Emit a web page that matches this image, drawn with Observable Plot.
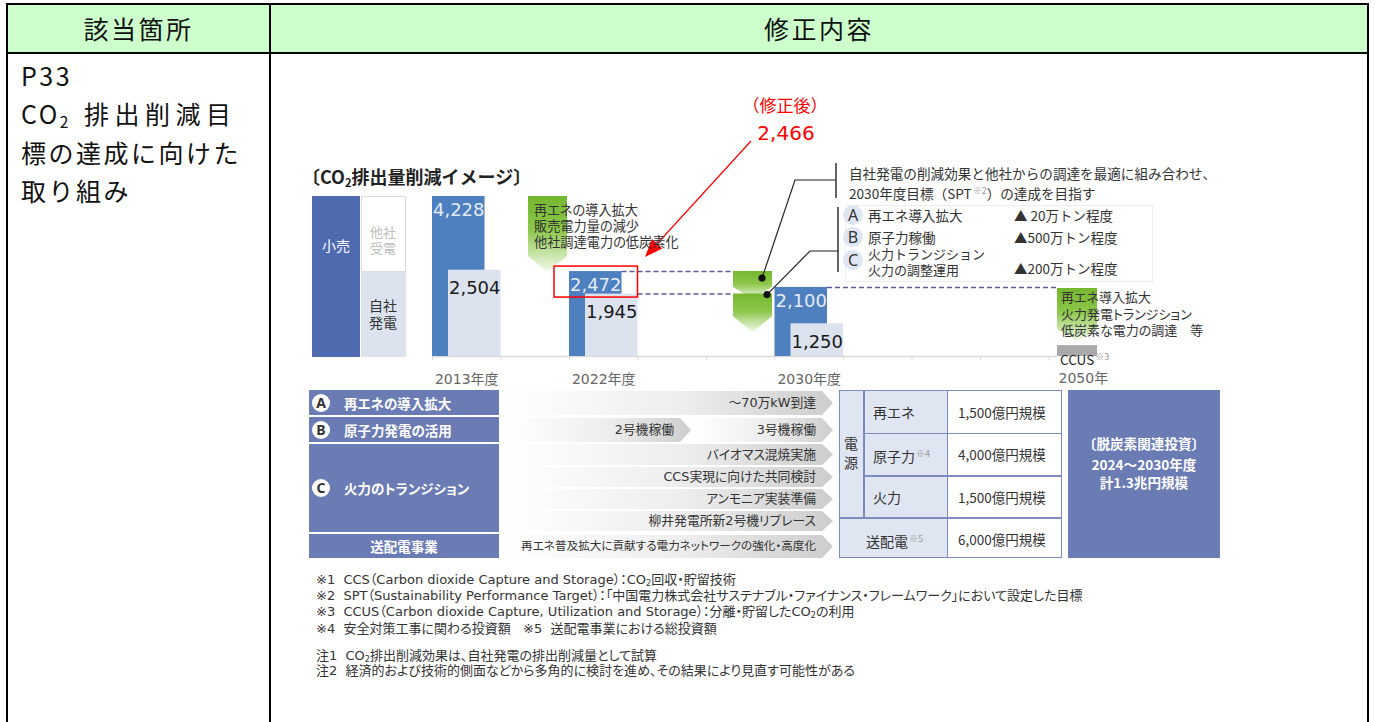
<!DOCTYPE html>
<html lang="ja"><head><meta charset="utf-8">
<script src="https://cdn.jsdelivr.net/npm/d3@7"></script>
<script src="https://cdn.jsdelivr.net/npm/@observablehq/plot@0.6"></script>
<style>
html,body{margin:0;padding:0;background:#fff}
body{width:1375px;height:722px;position:relative;overflow:hidden;font-family:"Noto Sans CJK JP","Noto Sans",sans-serif;color:#222}
.a{position:absolute;white-space:nowrap;z-index:2}
.p{font-feature-settings:"palt"}
.sup{font-size:9px;color:#9a9a9a;vertical-align:5px;margin-left:1px}
sub{font-size:0.62em;vertical-align:-0.25em;line-height:0}
</style></head><body>
<script>
// ---------------- data ----------------
const slotDomain = ["2013年度", "gap1", "2022年度", "gap2", "gap3", "2030年度", "gap4", "gap5", "gap6", "2050年"];
const fiscalYears = ["2013年度", "2022年度", "2030年度"];
const retailEmissions = [4228, 2472, 2100];   // 小売（万t-CO2）
const ownGenEmissions = [2504, 1945, 1250];   // 自社発電
const correctedRetail2022 = [2466];           // 修正後
const ccusResidual2050 = [740];
const axisFloor = 485;
const axisLabels = ["2013年度", "2022年度", "2030年度"];
const axisLabel2050 = ["2050年"];

const headerLabels = ["該当箇所", "修正内容"];
const locationLines = ["P33", "CO2 排出削減目", "標の達成に向けた", "取り組み"];
const chartTitle = "〔CO₂排出量削減イメージ〕";
const legendLabels = ["小売", "他社受電", "自社発電"];
const notes2022 = ["再エネの導入拡大", "販売電力量の減少", "他社調達電力の低炭素化"];
const notes2050 = ["再エネ導入拡大", "火力発電トランジション", "低炭素な電力の調達　等"];
const targetNote = ["自社発電の削減効果と他社からの調達を最適に組み合わせ、", "2030年度目標（SPT<span class='sup'>※2</span>）の達成を目指す"];
const reductionKeys = ["A", "B", "C"];
const reductionLevers = [["再エネ導入拡大"], ["原子力稼働"], ["火力トランジション", "火力の調整運用"]];
const reductionAmounts = ["▲ 20万トン程度", "▲500万トン程度", "▲200万トン程度"];
const measures = [["A", "再エネの導入拡大"], ["B", "原子力発電の活用"], ["C", "火力のトランジション"], ["", "送配電事業"]];
const roadmap = [["～70万kW到達"], ["2号機稼働", "3号機稼働"], ["バイオマス混焼実施"], ["CCS実現に向けた共同検討"], ["アンモニア実装準備"], ["柳井発電所新2号機リプレース"], ["再エネ普及拡大に貢献する電力ネットワークの強化・高度化"]];
const investCategories = ["再エネ", "原子力", "火力", "送配電"];
const investNotes = ["", "※4", "", "※5"];
const investAmounts = ["1,500億円規模", "4,000億円規模", "1,500億円規模", "6,000億円規模"];
const investTotal = ["〔脱炭素関連投資〕", "2024～2030年度", "計1.3兆円規模"];
const footnotes = [
  "※1  CCS（Carbon dioxide Capture and Storage）：CO<sub>2</sub>回収・貯留技術",
  "※2  SPT（Sustainability Performance Target）：「中国電力株式会社サステナブル・ファイナンス・フレームワーク」において設定した目標",
  "※3  CCUS（Carbon dioxide Capture, Utilization and Storage）：分離・貯留したCO<sub>2</sub>の利用",
  "※4  安全対策工事に関わる投資額   ※5  送配電事業における総投資額",
  "注1  CO<sub>2</sub>排出削減効果は、自社発電の排出削減量として試算",
  "注2  経済的および技術的側面などから多角的に検討を進め、その結果により見直す可能性がある"
];

// ---------------- helpers ----------------
function el(html, style, cls = "a") {
  const d = document.createElement("div");
  d.className = cls; d.style.cssText = style; d.innerHTML = html;
  document.body.appendChild(d); return d;
}
function txt(html, left, cy, size, extra = "", cls = "a", lh) {
  lh = lh || Math.round(size * 1.4);
  return el(html, `left:${left}px;top:${cy - lh / 2}px;font-size:${size}px;line-height:${lh}px;${extra}`, cls);
}
function txt2(l1, l2, left, cy1, gap, size, extra = "", cls = "a") {
  return el(l1 + "<br>" + l2, `left:${left}px;top:${cy1 - gap / 2}px;font-size:${size}px;line-height:${gap}px;${extra}`, cls);
}

// ---------------- table frame ----------------
el("", "left:6px;top:3px;width:1363px;height:51px;background:#ccffcc;border:2px solid #000;box-sizing:border-box;z-index:0");
el("", "left:6px;top:54px;width:1363px;height:700px;border:2px solid #000;border-top:none;box-sizing:border-box;z-index:0");
el("", "left:269px;top:3px;width:2px;height:730px;background:#000;z-index:0");
el(headerLabels[0], "left:8px;width:261px;top:3px;height:51px;line-height:51px;text-align:center;font-size:25px;letter-spacing:2.5px;color:#111");
el(headerLabels[1], "left:271px;width:1096px;top:3px;height:51px;line-height:51px;text-align:center;font-size:25px;letter-spacing:2.5px;color:#111");
const locY = [75, 113, 152, 190];
txt(locationLines[0], 21, locY[0], 25, "letter-spacing:2.5px;color:#111", "a", 34);
txt("CO<sub>2</sub> <span style='letter-spacing:5.5px;margin-left:5px'>" + locationLines[1].split(" ")[1] + "</span>", 21, locY[1], 25, "letter-spacing:2.5px;color:#111", "a", 34);
txt(locationLines[2], 21, locY[2], 25, "letter-spacing:2.5px;color:#111", "a", 34);
txt(locationLines[3], 21, locY[3], 25, "letter-spacing:2.5px;color:#111", "a", 34);

// ---------------- chart (Observable Plot) ----------------
const fmt = d3.format(",");
const rows = fiscalYears.map((year, i) => ({year, retail: retailEmissions[i], own: ownGenEmissions[i]}));
const X0 = 432, X1 = 1117, BW = (X1 - X0) / slotDomain.length;
const Y0 = 356, YT = 196;
const numFont = '"DejaVu Sans","Noto Sans CJK JP",sans-serif';
const dash = {stroke: "#5a5a98", strokeWidth: 1.5, strokeDasharray: "5,3"};

function annotationLayer(index, scales) {
  const xs = scales && scales.x && typeof scales.x.bandwidth === "function" ? scales.x : d3.scaleBand(slotDomain, [X0, X1]);
  const ys = scales && typeof scales.y === "function" ? scales.y : d3.scaleLinear([axisFloor, 4228], [Y0, YT]);
  const g = d3.create("svg:g");
  const defs = g.append("defs");
  const gr = defs.append("linearGradient").attr("id", "greenFade").attr("x1", 0).attr("y1", 0).attr("x2", 0).attr("y2", 1);
  gr.append("stop").attr("offset", "0%").attr("stop-color", "#74b72e");
  gr.append("stop").attr("offset", "45%").attr("stop-color", "#8cc74a");
  gr.append("stop").attr("offset", "100%").attr("stop-color", "#f3f9ec");
  const chev = (x0, w, top, sides, tip) => `M${x0},${top}H${x0 + w}V${sides}L${x0 + w / 2},${tip}L${x0},${sides}Z`;
  const c1x = xs("gap1") + 27.5, c2x = xs("gap3") + 27, c4x = xs("2050年") + 8.5;
  const t1 = ys(retailEmissions[1]) + 1, t2 = ys(retailEmissions[2]) + 12, t3 = ys(ownGenEmissions[2]) + 9, t4 = ys(ccusResidual2050[0]) - 4;
  const shapes = [
    chev(c1x, 39, ys(retailEmissions[0]), t1 - 16, t1),
    chev(c2x, 39, ys(retailEmissions[1]), t2 - 12, t2),
    chev(c2x, 39, ys(ownGenEmissions[1]), t3 - 16, t3),
    chev(c4x, 40, ys(retailEmissions[2]) + 1, t4 - 12, t4)
  ];
  g.selectAll("path.chev").data(shapes).join("path").attr("d", d => d).attr("fill", "url(#greenFade)");
  const d1 = [c2x + 29, ys(retailEmissions[1]) + 7], d2 = [c2x + 34, ys(ownGenEmissions[1]) + 1];
  const line = d3.line();
  g.append("path").attr("d", line([d1, [795, 180], [836, 180]])).attr("fill", "none").attr("stroke", "#222").attr("stroke-width", 1.2);
  g.append("path").attr("d", line([d2, [810, 251], [838, 251]])).attr("fill", "none").attr("stroke", "#222").attr("stroke-width", 1.2);
  g.append("path").attr("d", "M836,163V198M838,207V272").attr("stroke", "#333").attr("stroke-width", 1.5);
  g.selectAll("circle").data([d1, d2]).join("circle").attr("cx", d => d[0]).attr("cy", d => d[1]).attr("r", 3.6).attr("fill", "#111");
  const bx = xs("2022年度"), by = ys(retailEmissions[1]);
  g.append("rect").attr("x", bx - 15).attr("y", by - 5).attr("width", BW + 15).attr("height", 31).attr("fill", "none").attr("stroke", "#ff0000").attr("stroke-width", 1.5);
  const start = [751, 141], tip = [bx + BW + 7.5, by - 14];
  const vx = tip[0] - start[0], vy = tip[1] - start[1], L = Math.hypot(vx, vy), ux = vx / L, uy = vy / L;
  const hl = 18, hw = 7;
  const base = [tip[0] - ux * hl, tip[1] - uy * hl];
  g.append("line").attr("x1", start[0]).attr("y1", start[1]).attr("x2", base[0]).attr("y2", base[1]).attr("stroke", "#ff0000").attr("stroke-width", 1.2);
  g.append("path").attr("d", `M${tip[0]},${tip[1]}L${base[0] - uy * hw},${base[1] + ux * hw}L${base[0] + uy * hw},${base[1] - ux * hw}Z`).attr("fill", "#ff0000");
  g.append("text").attr("x", 785).attr("y", 106).attr("dy", "0.35em").attr("text-anchor", "middle").attr("fill", "#ff0000").attr("font-size", 17).text("（修正後）");
  g.append("text").attr("x", 786).attr("y", 133).attr("dy", "0.35em").attr("text-anchor", "middle").attr("fill", "#ff0000").attr("font-size", 20).attr("font-family", numFont).text(fmt(correctedRetail2022[0]));
  return g.node();
}

const chart = Plot.plot({
  width: 1375, height: 722,
  marginTop: 0, marginRight: 0, marginBottom: 0, marginLeft: 0,
  style: {background: "transparent", overflow: "visible", fontFamily: '"Noto Sans CJK JP",sans-serif'},
  x: {type: "band", domain: slotDomain, range: [X0, X1], padding: 0, round: false, axis: null},
  y: {type: "linear", domain: [axisFloor, 4228], range: [Y0, YT], axis: null},
  marks: [
    Plot.ruleY([axisFloor], {x1: () => "2013年度", x2: () => "2050年", insetRight: 60, stroke: "#d9d9d9", strokeWidth: 1.5}),
    Plot.ruleX(slotDomain, {x: d => d, y1: () => axisFloor, y2: () => axisFloor, dx: -BW / 2, insetBottom: -4, stroke: "#d9d9d9"}),
    Plot.barY(rows, {x: "year", y1: () => axisFloor, y2: "retail", fill: "#4e7fbe", insetRight: 16}),
    Plot.barY(rows, {x: "year", y1: () => axisFloor, y2: "own", fill: "#dce3ef", insetLeft: 16}),
    Plot.barY(ccusResidual2050, {x: () => "2050年", y1: () => axisFloor, y2: d => d, fill: "#a9a9a9", insetLeft: 8.5, insetRight: 20}),
    Plot.text(rows, {x: "year", y: "retail", text: d => fmt(d.retail), dx: -8, dy: 14, fill: "#e3ebf7", fontSize: 18, fontFamily: numFont}),
    Plot.text(rows, {x: "year", y: "own", text: d => fmt(d.own), dx: 8, dy: 18, fill: "#1a1a1a", fontSize: 18, fontFamily: numFont}),
    Plot.text(axisLabels, {x: d => d, y: () => axisFloor, dy: 23, fill: "#666", fontSize: 14, fontFamily: numFont}),
    Plot.text(axisLabel2050, {x: d => d, y: () => axisFloor, dy: 22, dx: -BW / 2 + 9.5, textAnchor: "start", fill: "#666", fontSize: 14, fontFamily: numFont}),
    Plot.ruleY([retailEmissions[1]], {x1: () => "2022年度", x2: () => "gap3", insetLeft: 52.5, insetRight: 41, ...dash}),
    Plot.ruleY([ownGenEmissions[1]], {x1: () => "2022年度", x2: () => "gap3", insetLeft: 68.5, insetRight: 41, ...dash}),
    Plot.ruleY([retailEmissions[2]], {x1: () => "2030年度", x2: () => "2050年", insetLeft: 52.5, insetRight: 60, ...dash}),
    annotationLayer
  ]
});
chart.style.position = "absolute"; chart.style.left = "0px"; chart.style.top = "0px"; chart.style.zIndex = 1;
document.body.appendChild(chart);

// ---------------- chart overlays (HTML text) ----------------
el(chartTitle.replace("₂", "<sub>2</sub>"), "left:302px;top:164px;font-size:18px;font-weight:bold;line-height:24px;color:#222");
el("", "left:312px;top:196px;width:48px;height:161px;background:#4f6bb0");
el("", "left:361px;top:196px;width:45px;height:76px;background:#fff;border:1px solid #dadada;box-sizing:border-box");
el("", "left:361px;top:272px;width:45px;height:85px;background:#dce3ef");
txt(legendLabels[0], 322, 245, 14, "color:#fff");
txt2(legendLabels[1].slice(0, 2), legendLabels[1].slice(2), 370, 232, 15.5, 13, "color:#bdbdbd");
txt2(legendLabels[2].slice(0, 2), legendLabels[2].slice(2), 369, 305, 17, 14, "color:#333");
el(notes2022.join("<br>"), "left:534px;top:202px;font-size:13.2px;line-height:16px;color:#333", "a p");
el(notes2050.join("<br>"), "left:1061px;top:289px;font-size:13px;line-height:16.5px;color:#333", "a p");
txt("CCUS<span class='sup'>※3</span>", 1060, 357, 13.5, "color:#222", "a", 16);
el(targetNote.join("<br>"), "left:849px;top:164.5px;font-size:13.6px;line-height:17px;color:#333");
el("", "left:845px;top:205px;width:308px;height:77px;border:1px solid #eeeeee;box-sizing:border-box");
const abcY = [215, 237, 260];
reductionKeys.forEach((k, i) => {
  el(k, `left:843px;top:${abcY[i] - 10}px;width:20px;height:20px;border-radius:10px;background:#dfe5f1;text-align:center;line-height:20px;font-size:16px;color:#333;font-family:'Noto Sans',sans-serif`);
  const lv = reductionLevers[i];
  if (lv.length === 1) txt(lv[0], 868, abcY[i], 13.5, "color:#333", "a", 17);
  else txt2(lv[0], lv[1], 868, 254, 16, 13, "color:#333");
  txt(reductionAmounts[i], 1014, i === 2 ? 268 : abcY[i], 13.5, "color:#333", "a", 17);
});

// ---------------- lower section ----------------
const panel = "#6b7bb4";
const measureBoxes = [[390, 415], [417, 442], [444, 532], [534, 558]];
measures.forEach(([k, name], i) => {
  const [t, b] = measureBoxes[i];
  el("", `left:309px;top:${t}px;width:190px;height:${b - t}px;background:${panel}`);
  const cy = (t + b) / 2;
  if (k) {
    el(k, `left:312px;top:${cy - 9}px;width:18px;height:18px;border-radius:9px;background:#fff;color:#333;text-align:center;line-height:18px;font-size:14px;font-weight:bold;font-family:'Noto Sans',sans-serif`);
    txt(name, 344, cy, 13.5, "color:#fff;font-weight:bold", "a p", 18);
  } else {
    el(name, `left:309px;width:190px;top:${cy - 10}px;height:20px;line-height:20px;text-align:center;font-size:13.5px;color:#fff;font-weight:bold`);
  }
});
const rowBoxes = [[391, 415], [418, 442], [444, 465], [467, 487], [489, 509], [511, 531], [535, 558]];
roadmap.forEach((items, i) => {
  const [t, b] = rowBoxes[i];
  const segs = items.length === 1 ? [[505, 833]] : [[510, 691], [693, 833]];
  const fs = items[0].length > 20 ? 11.6 : 12.8;
  items.forEach((label, j) => {
    const [l, r] = segs[j];
    el(label, `left:${l}px;top:${t}px;width:${r - l}px;height:${b - t}px;background:linear-gradient(to right,#ffffff 0%,#ededed 55%,#cdcdcd 100%);clip-path:polygon(0 0,calc(100% - 11px) 0,100% 50%,calc(100% - 11px) 100%,0 100%);font-size:${fs}px;line-height:${b - t}px;text-align:right;padding-right:17px;box-sizing:border-box;color:#333;font-family:"DejaVu Sans","Noto Sans CJK JP",sans-serif`, "a p");
  });
});
const bc = "#7d8bbf";
el("", `left:839px;top:390px;width:108px;height:168px;background:#dfe5f1`);
el("", `left:839px;top:390px;width:223px;height:168px;border:1.5px solid ${bc};box-sizing:border-box`);
el("", `left:863px;top:390px;width:1.5px;height:128px;background:${bc}`);
el("", `left:946.5px;top:390px;width:1.5px;height:168px;background:${bc}`);
[432.5, 475].forEach(y => el("", `left:863px;top:${y}px;width:199px;height:1.5px;background:${bc}`));
el("", `left:839px;top:517px;width:223px;height:1.5px;background:${bc}`);
txt2("電", "源", 844, 443, 19, 14, "color:#333");
const invY = [412, 454, 497, 539];
investCategories.forEach((c, i) => {
  txt(c + (investNotes[i] ? `<span class='sup'>${investNotes[i]}</span>` : ""), i === 3 ? 866 : 873, invY[i], 14, "color:#333", "a", 18);
  txt(investAmounts[i], 958, invY[i], 13.5, "color:#333", "a", 18);
});
el("", `left:1068px;top:390px;width:152px;height:168px;background:${panel}`);
[443, 464, 482].forEach((y, i) => el(investTotal[i], `left:1068px;width:152px;top:${y - 8}px;height:16px;line-height:16px;text-align:center;font-size:13.6px;font-weight:bold;color:#fff`));
const fnY = [579, 595, 611, 628, 655, 670];
footnotes.forEach((t, i) => txt(t, 316, fnY[i], 13, 'color:#333;white-space:pre;font-family:"DejaVu Sans","Noto Sans CJK JP",sans-serif', "a p", 15));
</script>
</body></html>
